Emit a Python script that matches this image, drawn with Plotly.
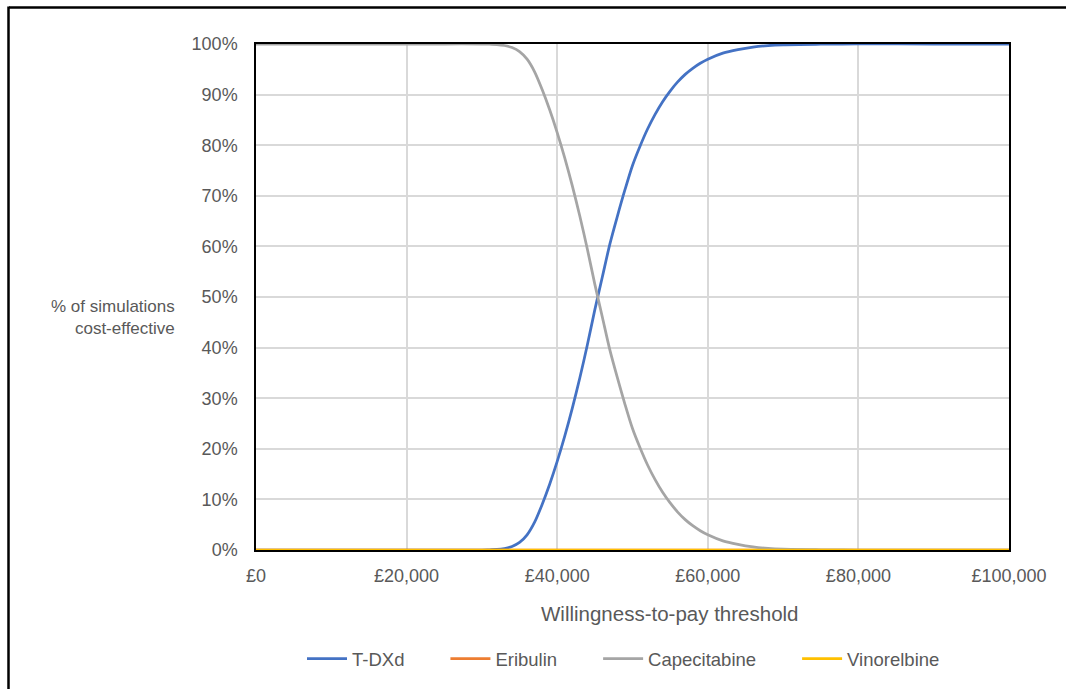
import plotly.graph_objects as go

# Willingness-to-pay thresholds (£)
wtp = [0, 5000, 10000, 15000, 20000, 25000, 30000, 31000, 32000, 33000, 34000, 35000,
       36000, 37000, 38000, 39000, 40000, 41000, 42000, 43000, 44000, 45000, 46000,
       47000, 48000, 49000, 50000, 51000, 52000, 53000, 54000, 55000, 56000, 57000,
       58000, 59000, 60000, 62000, 64000, 66000, 68000, 70000, 75000, 80000, 90000, 100000]

# % of simulations cost-effective
tdxd = [0, 0, 0, 0, 0, 0, 0, 0.05, 0.1, 0.3, 0.7, 1.5,
        3.0, 5.5, 9.0, 13.0, 17.5, 22.5, 28.0, 34.0, 40.5, 47.5, 54.0,
        60.5, 66.0, 71.2, 76.0, 79.8, 83.2, 86.1, 88.6, 90.7, 92.5, 94.0,
        95.2, 96.2, 97.0, 98.2, 98.9, 99.4, 99.7, 99.85, 99.95, 100, 100, 100]
capecitabine = [100, 100, 100, 100, 100, 100, 100, 99.95, 99.9, 99.7, 99.3, 98.5,
                97.0, 94.5, 91.0, 87.0, 82.5, 77.5, 72.0, 66.0, 59.5, 52.5, 46.0,
                39.5, 34.0, 28.8, 24.0, 20.2, 16.8, 13.9, 11.4, 9.3, 7.5, 6.0,
                4.8, 3.8, 3.0, 1.8, 1.1, 0.6, 0.3, 0.15, 0.05, 0, 0, 0]
eribulin = [0] * len(wtp)
vinorelbine = [0] * len(wtp)

series_names = ["T-DXd", "Eribulin", "Capecitabine", "Vinorelbine"]
series_values = [tdxd, eribulin, capecitabine, vinorelbine]
series_colors = ["#4472C4", "#ED7D31", "#A5A5A5", "#FFC000"]

x_tickvals = [0, 20000, 40000, 60000, 80000, 100000]
x_ticktext = ["£0", "£20,000", "£40,000", "£60,000", "£80,000", "£100,000"]
y_tickvals = [0, 10, 20, 30, 40, 50, 60, 70, 80, 90, 100]
y_ticktext = [f"{v}%" for v in y_tickvals]

W, H = 1066, 689
L, R, T, B = 256, 1009, 44, 551

def px_x(p):
    return (p - L) / (R - L)

def px_y(p):
    return (B - p) / (B - T)

PAD = "\u00a0" * 7

fig = go.Figure()
for i in [0, 1, 2, 3]:
    label = series_names[i] + (PAD if i < 3 else "")
    fig.add_trace(go.Scatter(
        x=wtp, y=series_values[i], name=label, mode="lines",
        line=dict(color=series_colors[i], width=2.75, shape="spline", smoothing=0.8),
        cliponaxis=False,
    ))

font = "Liberation Sans, Arial, sans-serif"
fig.update_layout(
    width=W, height=H,
    margin=dict(l=L, r=W - R, t=T, b=H - B, pad=0),
    paper_bgcolor="white", plot_bgcolor="white",
    font=dict(family=font, size=18, color="#595959"),
    showlegend=True,
    legend=dict(orientation="h", x=px_x(302), xanchor="left", y=px_y(659), yanchor="middle",
                font=dict(size=18.5, color="#595959"), itemwidth=40, traceorder="normal"),
    xaxis=dict(range=[0, 100000], tickvals=x_tickvals, ticktext=x_ticktext,
               showgrid=True, gridcolor="#D9D9D9", gridwidth=1.5,
               showline=True, linecolor="black", linewidth=1.5, mirror=True,
               ticks="", ticklabelstandoff=9, zeroline=False,
               tickfont=dict(size=18)),
    yaxis=dict(range=[0, 100], tickvals=y_tickvals, ticktext=y_ticktext,
               showgrid=True, gridcolor="#D9D9D9", gridwidth=1.5,
               showline=True, linecolor="black", linewidth=1.5, mirror=True,
               ticks="", ticklabelstandoff=13, zeroline=False,
               tickfont=dict(size=18)),
    annotations=[
        dict(text="Willingness-to-pay threshold", xref="paper", yref="paper",
             x=px_x(670), y=px_y(615), xanchor="center", yanchor="middle",
             showarrow=False, font=dict(size=20.5, color="#595959")),
        dict(text="% of simulations<br>cost-effective", xref="paper", yref="paper",
             x=px_x(177), y=px_y(318), xanchor="right", yanchor="middle", align="right",
             showarrow=False, font=dict(size=17, color="#595959")),
    ],
    shapes=[
        dict(type="line", xref="paper", yref="paper", x0=px_x(9), x1=px_x(1070),
             y0=px_y(7.5), y1=px_y(7.5), line=dict(color="black", width=2.5)),
        dict(type="line", xref="paper", yref="paper", x0=px_x(8.5), x1=px_x(8.5),
             y0=px_y(6.5), y1=px_y(695), line=dict(color="black", width=2.5)),
    ],
)

fig.write_html("out.html", config={"displayModeBar": False},
               post_script="document.body.style.margin='0';document.body.style.overflow='hidden';")
